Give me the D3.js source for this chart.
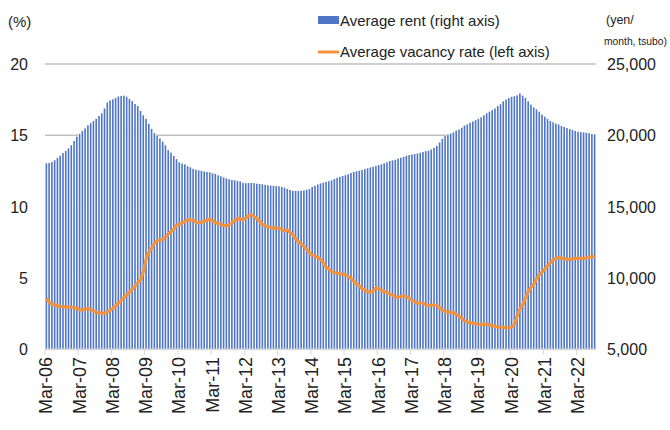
<!DOCTYPE html>
<html>
<head>
<meta charset="utf-8">
<script src="https://cdn.jsdelivr.net/npm/d3@7"></script>
<style>
  body { margin: 0; background: #fff; }
  text { font-family: "Liberation Sans", Arial, sans-serif; fill: #222; }
</style>
</head>
<body>
<div id="chart"></div>
<script>
// monthly, Mar-06 .. Sep-22
var startMonth = new Date(2006, 2, 1);

var rent = [
  18030,18060,18120,18250,18400,18560,18750,18900,19080,19300,19600,19900,
  20100,20300,20480,20700,20850,21000,21150,21350,21540,21880,22300,22450,
  22520,22620,22720,22760,22780,22700,22550,22400,22200,22050,21700,21400,
  21150,20800,20450,20150,19950,19780,19550,19300,18950,18780,18550,18330,
  18100,18020,17960,17830,17750,17640,17580,17540,17500,17450,17420,17400,
  17330,17290,17190,17120,17040,16970,16910,16860,16840,16800,16760,16650,
  16630,16640,16650,16640,16600,16580,16560,16520,16490,16470,16450,16430,
  16420,16380,16320,16230,16160,16100,16090,16090,16100,16130,16180,16220,
  16380,16460,16550,16620,16670,16720,16770,16840,16930,17010,17080,17140,
  17200,17260,17350,17420,17470,17510,17560,17620,17680,17740,17790,17850,
  17910,17960,18030,18110,18190,18240,18280,18360,18420,18490,18560,18610,
  18650,18680,18720,18770,18830,18880,18920,19000,19120,19250,19500,19750,
  19950,20030,20120,20200,20330,20400,20530,20680,20760,20880,20970,21060,
  21150,21260,21400,21540,21650,21760,21880,22050,22180,22380,22500,22620,
  22700,22740,22800,22940,22780,22620,22380,22150,21950,21820,21650,21450,
  21300,21150,21000,20910,20820,20750,20650,20580,20500,20430,20370,20300,
  20250,20220,20200,20170,20150,20080,20050
];

var vacancy = [
  3.56,3.30,3.15,3.08,3.03,3.00,2.98,2.96,2.94,2.93,2.91,2.85,
  2.75,2.74,2.80,2.86,2.75,2.68,2.58,2.53,2.50,2.52,2.60,2.72,
  2.86,3.02,3.21,3.40,3.60,3.80,3.98,4.18,4.40,4.65,4.85,5.40,
  6.30,6.80,7.07,7.40,7.60,7.62,7.70,7.85,8.05,8.25,8.40,8.70,
  8.75,8.84,8.95,9.05,9.07,9.05,8.92,8.85,8.90,8.95,9.05,9.12,
  8.98,8.88,8.80,8.75,8.68,8.63,8.72,8.85,9.00,9.17,9.12,9.05,
  9.20,9.35,9.43,9.30,9.15,8.95,8.75,8.65,8.58,8.52,8.50,8.48,
  8.47,8.40,8.30,8.35,8.20,8.00,7.75,7.53,7.40,7.20,7.00,6.75,
  6.60,6.50,6.43,6.30,6.05,5.75,5.60,5.45,5.36,5.32,5.28,5.26,
  5.20,5.10,4.95,4.75,4.58,4.42,4.25,4.14,4.03,3.98,4.05,4.30,
  4.25,4.12,4.03,3.95,3.87,3.78,3.65,3.64,3.67,3.72,3.70,3.55,
  3.40,3.32,3.23,3.21,3.22,3.12,3.04,3.06,3.09,3.05,2.90,2.75,
  2.64,2.60,2.57,2.55,2.45,2.30,2.15,2.00,1.90,1.85,1.80,1.77,
  1.74,1.73,1.73,1.75,1.68,1.66,1.58,1.55,1.53,1.52,1.50,1.49,
  1.55,1.70,2.30,2.80,3.10,3.60,4.00,4.35,4.55,4.90,5.20,5.40,
  5.60,5.85,6.05,6.25,6.35,6.42,6.38,6.36,6.30,6.26,6.33,6.36,
  6.37,6.36,6.36,6.38,6.45,6.48,6.53
];

var leftTicks = [0, 5, 10, 15, 20];
var rightTicks = [5000, 10000, 15000, 20000, 25000];
var seriesNames = ["Average rent (right axis)", "Average vacancy rate (left axis)"];

var months = rent.map(function(d, i){ return d3.timeMonth.offset(startMonth, i); });

var width = 670, height = 430;
var plotLeft = 45, plotRight = 596, plotTop = 64, plotBottom = 349;

var svg = d3.select("#chart").append("svg")
  .attr("width", width)
  .attr("height", height);

var x = d3.scaleBand()
  .domain(months)
  .range([plotLeft, plotRight])
  .paddingInner(0.42)
  .paddingOuter(0.2);

var yLeft = d3.scaleLinear().domain([0, 20]).range([plotBottom, plotTop]);
var yRight = d3.scaleLinear().domain([5000, 25000]).range([plotBottom, plotTop]);

// gridlines
svg.append("g")
  .selectAll("line")
  .data(leftTicks)
  .join("line")
  .attr("x1", plotLeft)
  .attr("x2", plotRight)
  .attr("y1", function(d){ return yLeft(d); })
  .attr("y2", function(d){ return yLeft(d); })
  .attr("stroke", "#bfbfbf")
  .attr("stroke-width", 1.5);

// white backing under each bar so grid doesn't show through the gaps
var step = x.step();
svg.append("g")
  .selectAll("rect")
  .data(rent)
  .join("rect")
  .attr("x", function(d, i){ return x(months[i]) - step * 0.3; })
  .attr("y", function(d){ return yRight(d); })
  .attr("width", step * 1.2)
  .attr("height", function(d){ return plotBottom - yRight(d); })
  .attr("fill", "#fff");

// rent bars
svg.append("g")
  .selectAll("rect")
  .data(rent)
  .join("rect")
  .attr("x", function(d, i){ return x(months[i]); })
  .attr("y", function(d){ return yRight(d); })
  .attr("width", x.bandwidth())
  .attr("height", function(d){ return plotBottom - yRight(d); })
  .attr("fill", "#4f76c6");

// vacancy line
var line = d3.line()
  .x(function(d, i){ return x(months[i]) + x.bandwidth() / 2; })
  .y(function(d){ return yLeft(d); });

svg.append("path")
  .datum(vacancy)
  .attr("d", line)
  .attr("fill", "none")
  .attr("stroke", "#f5923e")
  .attr("stroke-width", 3.2)
  .attr("stroke-linejoin", "round");

// x axis: ticks at each March
var marchIdx = months.map(function(d, i){ return i; }).filter(function(i){ return months[i].getMonth() === 2; });
var fmt = d3.timeFormat("%b-%y");

svg.append("line")
  .attr("x1", plotLeft).attr("x2", plotRight)
  .attr("y1", plotBottom).attr("y2", plotBottom)
  .attr("stroke", "#d9d9d9");

svg.append("g")
  .selectAll("line")
  .data(marchIdx)
  .join("line")
  .attr("x1", function(i){ return x(months[i]) - step * 0.2; })
  .attr("x2", function(i){ return x(months[i]) - step * 0.2; })
  .attr("y1", plotBottom)
  .attr("y2", plotBottom + 6)
  .attr("stroke", "#d9d9d9");

svg.append("g")
  .selectAll("text")
  .data(marchIdx)
  .join("text")
  .attr("transform", function(i){
    return "translate(" + (x(months[i]) + x.bandwidth() / 2 + 6) + "," + (plotBottom + 8) + ") rotate(-90)";
  })
  .attr("text-anchor", "end")
  .attr("font-size", 18)
  .text(function(i){ return fmt(months[i]); });

// left axis labels
svg.append("g")
  .selectAll("text")
  .data(leftTicks)
  .join("text")
  .attr("x", 28)
  .attr("y", function(d){ return yLeft(d) + 6; })
  .attr("text-anchor", "end")
  .attr("font-size", 16)
  .text(function(d){ return d; });

// right axis labels
svg.append("g")
  .selectAll("text")
  .data(rightTicks)
  .join("text")
  .attr("x", 607)
  .attr("y", function(d){ return yRight(d) + 6; })
  .attr("font-size", 16)
  .text(function(d){ return d3.format(",")(d); });

// unit labels
svg.append("text").attr("x", 8).attr("y", 27).attr("font-size", 15).text("(%)");
svg.append("text").attr("x", 606).attr("y", 24).attr("font-size", 12.5).text("(yen/");
svg.append("text").attr("x", 604).attr("y", 45).attr("font-size", 10.3).text("month, tsubo)");

// legend
var legend = svg.append("g");
legend.append("rect")
  .attr("x", 318).attr("y", 16).attr("width", 21).attr("height", 8)
  .attr("fill", "#4f76c6");
legend.append("line")
  .attr("x1", 318).attr("x2", 339).attr("y1", 52).attr("y2", 52)
  .attr("stroke", "#f5923e").attr("stroke-width", 3);
legend.selectAll("text")
  .data(seriesNames)
  .join("text")
  .attr("x", 340)
  .attr("y", function(d, i){ return 26 + i * 31; })
  .attr("font-size", 15)
  .text(function(d){ return d; });
</script>
</body>
</html>
